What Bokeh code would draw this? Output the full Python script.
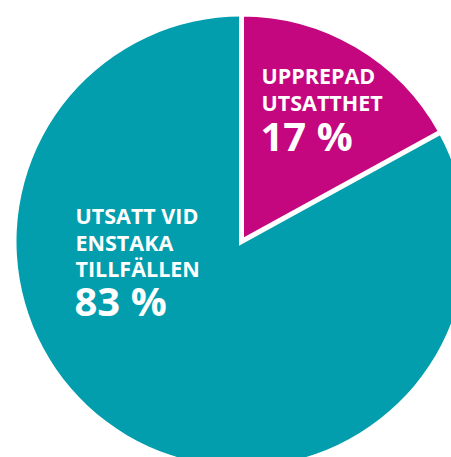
import math
from bokeh.plotting import figure
from bokeh.models import Range1d
from bokeh.core.properties import value
from bokeh.embed import file_html
from bokeh.resources import INLINE

labels = ["UPPREPAD UTSATTHET", "UTSATT VID ENSTAKA TILLFÄLLEN"]
shares = [17, 83]
colors = ["#C4077E", "#029EAE"]
label_lines = [["UPPREPAD", "UTSATTHET"], ["UTSATT VID", "ENSTAKA", "TILLFÄLLEN"]]
pct_text = ["17 %", "83 %"]

W, H = 451, 457
p = figure(width=W, height=H, output_backend="svg", toolbar_location=None,
           x_range=Range1d(0, W), y_range=Range1d(0, H),
           min_border=0)
p.axis.visible = False
p.grid.visible = False
p.outline_line_color = None
p.background_fill_color = "white"
p.border_fill_color = "white"

cx, cy, r = 241, H - 241, 225

# angles: start at top (90deg), go clockwise
total = sum(shares)
start = math.pi / 2
angles = []
for s in shares:
    sweep = s / total * 2 * math.pi
    angles.append((start - sweep, start))
    start -= sweep

# teal (large) first, then magenta with white separators
p.wedge(x=cx, y=cy, radius=r, start_angle=angles[1][0], end_angle=angles[1][1],
        fill_color=colors[1], line_color=None)
p.wedge(x=cx, y=cy, radius=r + 2.5, start_angle=angles[0][0], end_angle=angles[0][1],
        fill_color=colors[0], line_color="white", line_width=5, line_join="miter")

font = value("Open Sans")
# label positions (page px baselines)
lx = [261, 75]
line_base = [[75, 102], [215, 242, 268]]
pct_base = [135, 300]
for i in range(2):
    for j, t in enumerate(label_lines[i]):
        p.text(x=[lx[i]], y=[H - line_base[i][j]], text=[t], text_font=font,
               text_font_style="bold", text_font_size="21.5px", text_color="white",
               text_baseline="alphabetic", text_align="left")
    p.text(x=[lx[i] - 1], y=[H - pct_base[i]], text=[pct_text[i]], text_font=font,
           text_font_style="bold", text_font_size="40px", text_color="white",
           text_baseline="alphabetic", text_align="left")

open("out.html", "w").write(file_html(p, INLINE))
